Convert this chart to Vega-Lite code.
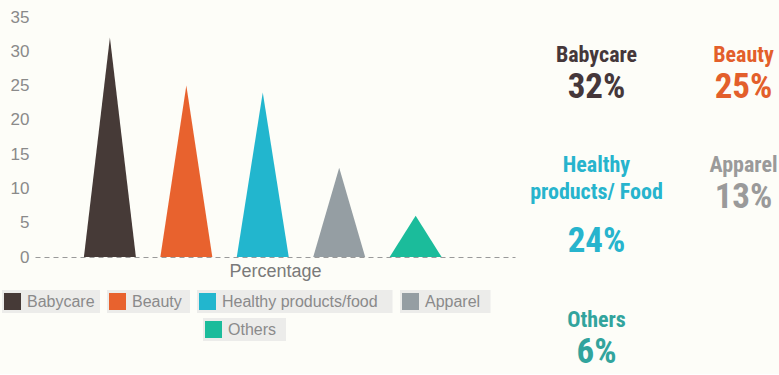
{
  "$schema": "https://vega.github.io/schema/vega-lite/v6.json",
  "background": "#fdfdf8",
  "padding": {"left": 2, "top": 8, "right": 2, "bottom": 2},
  "config": {
    "font": "Liberation Sans",
    "view": {"stroke": null},
    "concat": {"spacing": 8}
  },
  "datasets": {
    "shares": [
      {"category": "Babycare", "share": 32, "headline": "Babycare"},
      {"category": "Beauty", "share": 25, "headline": "Beauty"},
      {"category": "Healthy products/food", "share": 24, "headline": "Healthy\nproducts/ Food"},
      {"category": "Apparel", "share": 13, "headline": "Apparel"},
      {"category": "Others", "share": 6, "headline": "Others"}
    ]
  },
  "resolve": {"scale": {"color": "independent", "shape": "independent"}, "legend": {"color": "independent", "shape": "independent"}},
  "hconcat": [
    {
      "name": "main",
      "width": 480,
      "height": 240,
      "data": {"name": "shares"},
      "transform": [
        {"calculate": "['left','peak','right']", "as": "vertices"},
        {"flatten": ["vertices"], "as": ["vertex"]},
        {"calculate": "datum.vertex === 'peak' ? datum.share : 0", "as": "height"}
      ],
      "encoding": {
        "x": {
          "field": "category", "type": "nominal",
          "sort": ["Babycare", "Beauty", "Healthy products/food", "Apparel", "Others"],
          "scale": {"paddingInner": 0.32, "paddingOuter": 0.8, "align": 0.4},
          "axis": {"labels": false, "ticks": false, "domain": true, "domainDash": [5, 4], "domainColor": "#9a9a9a", "domainWidth": 1.2, "title": "Percentage", "titleFontSize": 18, "titleColor": "#7a7a7a", "titleFontWeight": "normal", "titlePadding": 5}
        },
        "xOffset": {"field": "vertex", "type": "nominal", "sort": ["left", "peak", "right"], "scale": {"type": "point", "padding": 0}},
        "y": {
          "field": "height", "type": "quantitative", "stack": null,
          "scale": {"domain": [0, 35], "nice": false},
          "axis": {"values": [0, 5, 10, 15, 20, 25, 30, 35], "domain": false, "ticks": false, "grid": false, "labelFontSize": 17, "labelColor": "#8a8a8a", "labelPadding": 6, "title": null}
        }
      },
      "layer": [
        {
          "mark": {"type": "area", "interpolate": "linear", "opacity": 1},
          "encoding": {
            "color": {
              "field": "category", "type": "nominal",
              "scale": {"domain": ["Babycare", "Beauty", "Healthy products/food", "Apparel", "Others"], "range": ["#463a37", "#e8622e", "#22b6ce", "#959ea3", "#1bbc9b"]},
              "legend": {
                "orient": "none", "legendX": -33, "legendY": 273, "direction": "horizontal", "columns": 4,
                "values": ["Babycare", "Beauty", "Healthy products/food", "Apparel"],
                "title": null, "symbolType": "square", "symbolSize": 289, "symbolStrokeWidth": 0, "symbolOffset": 2,
                "labelFontSize": 16, "labelColor": "#8a8a8a", "labelOffset": 6, "columnPadding": 7, "rowPadding": 5,
                "encoding": {
                  "entries": {"fill": {"value": "#ececea"}, "width": {"value": {"expr": "length(domain('main_color')[datum.index])*7.5+38"}}, "height": {"value": 23}, "noBound": {"value": false}},
                  "symbols": {"y": {"value": {"expr": "datum.size*0.5+3"}}},
                  "labels": {"y": {"value": {"expr": "datum.size*0.5+3"}}}
                }
              }
            }
          }
        },
        {
          "mark": {"type": "point", "filled": true, "color": "#1bbc9b", "opacity": 0},
          "encoding": {
            "shape": {
              "field": "category", "type": "nominal",
              "scale": {"domain": ["Others"], "range": ["square"]},
              "legend": {
                "orient": "none", "legendX": 168, "legendY": 301, "direction": "horizontal",
                "title": null, "symbolType": "square", "symbolSize": 289, "symbolStrokeWidth": 0, "symbolOffset": 2, "symbolOpacity": 1,
                "labelFontSize": 16, "labelColor": "#8a8a8a", "labelOffset": 6,
                "encoding": {
                  "entries": {"fill": {"value": "#ececea"}, "width": {"value": 83}, "height": {"value": 23}, "noBound": {"value": false}},
                  "symbols": {"fill": {"value": "#1bbc9b"}, "y": {"value": {"expr": "datum.size*0.5+3"}}},
                  "labels": {"y": {"value": {"expr": "datum.size*0.5+3"}}}
                }
              }
            }
          }
        }
      ]
    },
    {
      "vconcat": [
        {
          "width": 294, "height": 110,
          "data": {"name": "shares"},
          "transform": [
            {"filter": {"field": "category", "oneOf": ["Babycare", "Beauty"]}},
            {"calculate": "split(datum.headline + '\\n' + datum.share + '%', '\\n')", "as": "lines"},
            {"calculate": "length(datum.lines)", "as": "nLines"},
            {"flatten": ["lines"], "as": ["line"]},
            {"window": [{"op": "row_number", "as": "lineNo"}], "groupby": ["category"]}
          ],
          "encoding": {
            "x": {"field": "category", "type": "nominal", "sort": ["Babycare", "Beauty"], "axis": null, "scale": {"paddingInner": 0, "paddingOuter": 0}},
            "color": {"field": "category", "type": "nominal", "legend": null, "scale": {"domain": ["Babycare", "Beauty", "Healthy products/food", "Apparel", "Others"], "range": ["#45373a", "#e35f2b", "#27b4cd", "#9a9a9a", "#32a49d"]}},
            "text": {"field": "line"}
          },
          "layer": [
            {"transform": [{"filter": "datum.lineNo < datum.nLines"}], "mark": {"type": "text", "baseline": "alphabetic", "align": "center", "font": "Roboto Condensed, Liberation Sans Narrow, Roboto, sans-serif", "fontSize": 22, "fontWeight": "bold"},
             "encoding": {"y": {"field": "lineNo", "type": "quantitative", "axis": null, "scale": {"domain": [-0.667, 3.407], "reverse": true, "nice": false, "zero": false}}}},
            {"transform": [{"filter": "datum.lineNo == datum.nLines"}], "mark": {"type": "text", "baseline": "top", "align": "center", "dy": -3, "font": "Roboto Condensed, Liberation Sans Narrow, Roboto, sans-serif", "fontSize": 35, "fontWeight": "bold"},
             "encoding": {"y": {"field": "nLines", "type": "quantitative", "axis": null, "scale": {"domain": [0.727, 3.227], "reverse": true, "nice": false, "zero": false}}}}
          ],
          "resolve": {"scale": {"y": "independent"}}
        },
        {
          "width": 294, "height": 155,
          "data": {"name": "shares"},
          "transform": [
            {"filter": {"field": "category", "oneOf": ["Healthy products/food", "Apparel"]}},
            {"calculate": "split(datum.headline + '\\n' + datum.share + '%', '\\n')", "as": "lines"},
            {"calculate": "length(datum.lines)", "as": "nLines"},
            {"flatten": ["lines"], "as": ["line"]},
            {"window": [{"op": "row_number", "as": "lineNo"}], "groupby": ["category"]}
          ],
          "encoding": {
            "x": {"field": "category", "type": "nominal", "sort": ["Healthy products/food", "Apparel"], "axis": null, "scale": {"paddingInner": 0, "paddingOuter": 0}},
            "color": {"field": "category", "type": "nominal", "legend": null, "scale": {"domain": ["Babycare", "Beauty", "Healthy products/food", "Apparel", "Others"], "range": ["#45373a", "#e35f2b", "#27b4cd", "#9a9a9a", "#32a49d"]}},
            "text": {"field": "line"}
          },
          "layer": [
            {"transform": [{"filter": "datum.lineNo < datum.nLines"}], "mark": {"type": "text", "baseline": "alphabetic", "align": "center", "font": "Roboto Condensed, Liberation Sans Narrow, Roboto, sans-serif", "fontSize": 22, "fontWeight": "bold"},
             "encoding": {"y": {"field": "lineNo", "type": "quantitative", "axis": null, "scale": {"domain": [-0.667, 5.074], "reverse": true, "nice": false, "zero": false}}}},
            {"transform": [{"filter": "datum.lineNo == datum.nLines"}], "mark": {"type": "text", "baseline": "top", "align": "center", "dy": -3, "font": "Roboto Condensed, Liberation Sans Narrow, Roboto, sans-serif", "fontSize": 35, "fontWeight": "bold"},
             "encoding": {"y": {"field": "nLines", "type": "quantitative", "axis": null, "scale": {"domain": [0.727, 4.25], "reverse": true, "nice": false, "zero": false}}}}
          ],
          "resolve": {"scale": {"y": "independent"}}
        },
        {
          "width": 147, "height": 90,
          "data": {"name": "shares"},
          "transform": [
            {"filter": {"field": "category", "oneOf": ["Others"]}},
            {"calculate": "split(datum.headline + '\\n' + datum.share + '%', '\\n')", "as": "lines"},
            {"calculate": "length(datum.lines)", "as": "nLines"},
            {"flatten": ["lines"], "as": ["line"]},
            {"window": [{"op": "row_number", "as": "lineNo"}], "groupby": ["category"]}
          ],
          "encoding": {
            "x": {"field": "category", "type": "nominal", "axis": null, "scale": {"paddingInner": 0, "paddingOuter": 0}},
            "color": {"field": "category", "type": "nominal", "legend": null, "scale": {"domain": ["Babycare", "Beauty", "Healthy products/food", "Apparel", "Others"], "range": ["#45373a", "#e35f2b", "#27b4cd", "#9a9a9a", "#32a49d"]}},
            "text": {"field": "line"}
          },
          "layer": [
            {"transform": [{"filter": "datum.lineNo < datum.nLines"}], "mark": {"type": "text", "baseline": "alphabetic", "align": "center", "font": "Roboto Condensed, Liberation Sans Narrow, Roboto, sans-serif", "fontSize": 22, "fontWeight": "bold"},
             "encoding": {"y": {"field": "lineNo", "type": "quantitative", "axis": null, "scale": {"domain": [-0.667, 2.667], "reverse": true, "nice": false, "zero": false}}}},
            {"transform": [{"filter": "datum.lineNo == datum.nLines"}], "mark": {"type": "text", "baseline": "top", "align": "center", "dy": -3, "font": "Roboto Condensed, Liberation Sans Narrow, Roboto, sans-serif", "fontSize": 35, "fontWeight": "bold"},
             "encoding": {"y": {"field": "nLines", "type": "quantitative", "axis": null, "scale": {"domain": [0.727, 2.773], "reverse": true, "nice": false, "zero": false}}}}
          ],
          "resolve": {"scale": {"y": "independent"}}
        }
      ],
      "spacing": 0
    }
  ]
}
